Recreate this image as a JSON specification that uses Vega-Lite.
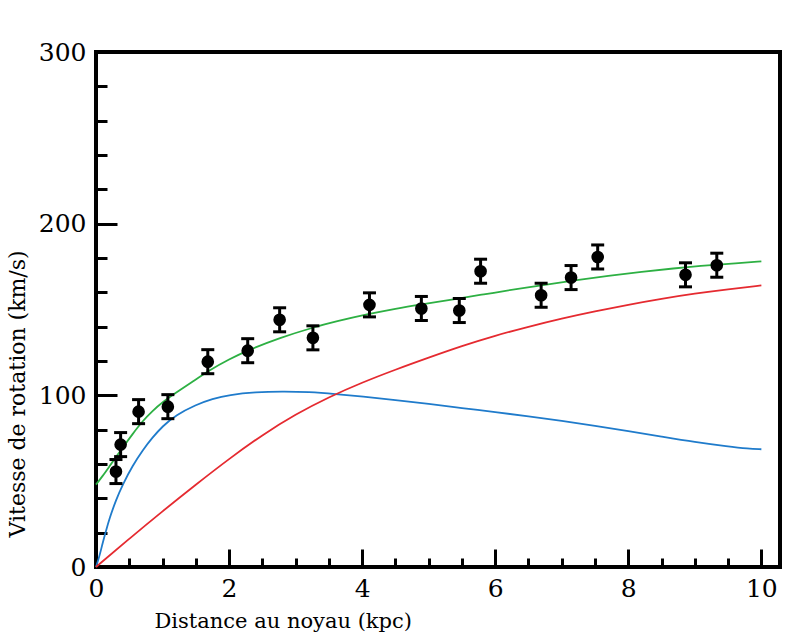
{
  "$schema": "https://vega.github.io/schema/vega-lite/v6.json",
  "autosize": {"type": "none"},
  "width": 684,
  "height": 515,
  "padding": {"left": 96, "top": 52, "right": 20, "bottom": 76},
  "background": "white",
  "config": {
    "view": {"stroke": "black", "strokeWidth": 4},
    "axis": {"labelFont": "DejaVu Serif", "titleFont": "DejaVu Serif", "titleFontWeight": "normal", "labelColor": "black", "titleColor": "black"}
  },
  "datasets": {
    "points": [
      {"x": 0.30, "v": 55.6, "err": 7},
      {"x": 0.37, "v": 71.3, "err": 7},
      {"x": 0.64, "v": 90.5, "err": 7},
      {"x": 1.08, "v": 93.4, "err": 7},
      {"x": 1.68, "v": 119.6, "err": 7},
      {"x": 2.28, "v": 126.0, "err": 7},
      {"x": 2.76, "v": 144.0, "err": 7},
      {"x": 3.26, "v": 133.5, "err": 7},
      {"x": 4.11, "v": 152.7, "err": 7},
      {"x": 4.89, "v": 150.6, "err": 7},
      {"x": 5.46, "v": 149.4, "err": 7},
      {"x": 5.78, "v": 172.3, "err": 7},
      {"x": 6.69, "v": 158.3, "err": 7},
      {"x": 7.14, "v": 168.6, "err": 7},
      {"x": 7.54, "v": 180.6, "err": 7},
      {"x": 8.86, "v": 170.2, "err": 7},
      {"x": 9.33, "v": 175.8, "err": 7}
    ],
    "curves": [
      {"curve": "total", "x": 0, "v": 48},
      {"curve": "total", "x": 0.1, "v": 53},
      {"curve": "total", "x": 0.2, "v": 58.5},
      {"curve": "total", "x": 0.3, "v": 64},
      {"curve": "total", "x": 0.4, "v": 69.5},
      {"curve": "total", "x": 0.55, "v": 77.5},
      {"curve": "total", "x": 0.7, "v": 85},
      {"curve": "total", "x": 0.85, "v": 91},
      {"curve": "total", "x": 1.0, "v": 96},
      {"curve": "total", "x": 1.2, "v": 101.5},
      {"curve": "total", "x": 1.44, "v": 107.6},
      {"curve": "total", "x": 1.7, "v": 114.5},
      {"curve": "total", "x": 2.0, "v": 121},
      {"curve": "total", "x": 2.3, "v": 126.5},
      {"curve": "total", "x": 2.76, "v": 133.5},
      {"curve": "total", "x": 3.26, "v": 139.5},
      {"curve": "total", "x": 3.6, "v": 143},
      {"curve": "total", "x": 4.11, "v": 147.5},
      {"curve": "total", "x": 4.5, "v": 150.5},
      {"curve": "total", "x": 4.89, "v": 153},
      {"curve": "total", "x": 5.46, "v": 156.5},
      {"curve": "total", "x": 5.78, "v": 158.5},
      {"curve": "total", "x": 6.05, "v": 160.3},
      {"curve": "total", "x": 6.69, "v": 164},
      {"curve": "total", "x": 7.2, "v": 167},
      {"curve": "total", "x": 7.7, "v": 169.7},
      {"curve": "total", "x": 8.2, "v": 172},
      {"curve": "total", "x": 8.7, "v": 174},
      {"curve": "total", "x": 9.05, "v": 175.3},
      {"curve": "total", "x": 9.65, "v": 177},
      {"curve": "total", "x": 10, "v": 178},
      {"curve": "disk", "x": 0, "v": 0},
      {"curve": "disk", "x": 0.05, "v": 6},
      {"curve": "disk", "x": 0.1, "v": 14},
      {"curve": "disk", "x": 0.15, "v": 21},
      {"curve": "disk", "x": 0.2, "v": 28},
      {"curve": "disk", "x": 0.3, "v": 39},
      {"curve": "disk", "x": 0.4, "v": 48},
      {"curve": "disk", "x": 0.55, "v": 59},
      {"curve": "disk", "x": 0.7, "v": 68},
      {"curve": "disk", "x": 0.85, "v": 75.5},
      {"curve": "disk", "x": 1.0, "v": 82},
      {"curve": "disk", "x": 1.2, "v": 88.5},
      {"curve": "disk", "x": 1.5, "v": 94.5},
      {"curve": "disk", "x": 1.75, "v": 98},
      {"curve": "disk", "x": 2.0, "v": 100.3},
      {"curve": "disk", "x": 2.4, "v": 101.9},
      {"curve": "disk", "x": 2.8, "v": 102.3},
      {"curve": "disk", "x": 3.2, "v": 102},
      {"curve": "disk", "x": 3.6, "v": 100.8},
      {"curve": "disk", "x": 4.0, "v": 99.3},
      {"curve": "disk", "x": 4.5, "v": 97.3},
      {"curve": "disk", "x": 5.0, "v": 95},
      {"curve": "disk", "x": 5.5, "v": 92.6},
      {"curve": "disk", "x": 6.0, "v": 90.2},
      {"curve": "disk", "x": 6.5, "v": 87.8},
      {"curve": "disk", "x": 7.0, "v": 85.2},
      {"curve": "disk", "x": 7.5, "v": 82.3},
      {"curve": "disk", "x": 8.0, "v": 79.2},
      {"curve": "disk", "x": 8.5, "v": 76},
      {"curve": "disk", "x": 9.0, "v": 72.8},
      {"curve": "disk", "x": 9.5, "v": 70.2},
      {"curve": "disk", "x": 9.8, "v": 68.9},
      {"curve": "disk", "x": 10.0, "v": 68.6},
      {"curve": "halo", "x": 0, "v": 0},
      {"curve": "halo", "x": 0.5, "v": 16.5},
      {"curve": "halo", "x": 1.0, "v": 32.5},
      {"curve": "halo", "x": 1.5, "v": 48},
      {"curve": "halo", "x": 2.0, "v": 63},
      {"curve": "halo", "x": 2.5, "v": 77},
      {"curve": "halo", "x": 3.0, "v": 89},
      {"curve": "halo", "x": 3.5, "v": 99},
      {"curve": "halo", "x": 4.0, "v": 107.5},
      {"curve": "halo", "x": 4.5, "v": 115},
      {"curve": "halo", "x": 5.0, "v": 122},
      {"curve": "halo", "x": 5.5, "v": 128.8},
      {"curve": "halo", "x": 6.0, "v": 134.8},
      {"curve": "halo", "x": 6.5, "v": 140},
      {"curve": "halo", "x": 7.0, "v": 144.8},
      {"curve": "halo", "x": 7.5, "v": 149},
      {"curve": "halo", "x": 8.0, "v": 152.8},
      {"curve": "halo", "x": 8.5, "v": 156.3},
      {"curve": "halo", "x": 9.0, "v": 159.3},
      {"curve": "halo", "x": 9.5, "v": 161.8},
      {"curve": "halo", "x": 10.0, "v": 164}
    ]
  },
  "encoding": {
    "x": {
      "field": "x", "type": "quantitative",
      "scale": {"domain": [0, 10.28], "nice": false, "zero": false},
      "axis": {
        "title": "Distance au noyau (kpc)",
        "titleFontSize": 21,
        "titleAnchor": "start", "titleAlign": "left", "titleBaseline": "alphabetic",
        "titleX": 58, "titleY": 60,
        "domain": false, "grid": false,
        "values": [0, 0.5, 1, 1.5, 2, 2.5, 3, 3.5, 4, 4.5, 5, 5.5, 6, 6.5, 7, 7.5, 8, 8.5, 9, 9.5, 10],
        "labelExpr": "datum.value % 2 === 0 ? format(datum.value, 'd') : ''",
        "labelFontSize": 25,
        "labelOverlap": false, "labelFlush": false,
        "labelPadding": 27,
        "tickColor": "black", "tickWidth": 3,
        "tickSize": {"condition": {"test": "datum.value % 2 === 0", "value": -18}, "value": -9}
      }
    },
    "y": {
      "field": "v", "type": "quantitative",
      "scale": {"domain": [0, 300], "nice": false},
      "axis": {
        "title": "Vitesse de rotation (km/s)",
        "titleFontSize": 22,
        "titleAngle": -90, "titleAnchor": "start", "titleAlign": "left", "titleBaseline": "alphabetic",
        "titleX": -72, "titleY": 485,
        "domain": false, "grid": false,
        "values": [0, 20, 40, 60, 80, 100, 120, 140, 160, 180, 200, 220, 240, 260, 280, 300],
        "labelExpr": "datum.value % 100 === 0 ? format(datum.value, 'd') : ''",
        "labelFontSize": 25,
        "labelOverlap": false, "labelFlush": false,
        "labelPadding": 31,
        "tickColor": "black", "tickWidth": 3,
        "tickSize": {"condition": {"test": "datum.value % 100 === 0", "value": -21}, "value": -11}
      }
    }
  },
  "layer": [
    {
      "data": {"name": "curves"},
      "mark": {"type": "line", "strokeWidth": 1.8, "interpolate": "basis"},
      "encoding": {
        "color": {
          "field": "curve", "type": "nominal",
          "scale": {"domain": ["total", "disk", "halo"], "range": ["#2db043", "#1f7bcb", "#e52a30"]},
          "legend": null
        },
        "detail": {"field": "curve"}
      }
    },
    {
      "data": {"name": "points"},
      "mark": {"type": "errorbar", "color": "black", "opacity": 1, "rule": {"strokeWidth": 3, "opacity": 1, "color": "black"}, "ticks": {"size": 13, "thickness": 3, "opacity": 1, "color": "black"}},
      "encoding": {
        "yError": {"field": "err"}
      }
    },
    {
      "data": {"name": "points"},
      "mark": {"type": "point", "filled": true, "color": "black", "opacity": 1, "size": 160}
    }
  ]
}
